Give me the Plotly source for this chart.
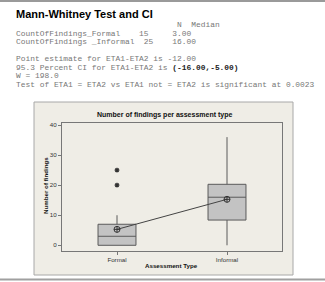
import plotly.graph_objects as go

# ---------------- data ----------------
categories = ["Formal", "Informal"]
series_names = ["CountOfFindings_Formal", "CountOfFindings _Informal"]
n_obs = [15, 25]
medians = [3.0, 16.0]
q1_vals = [0.0, 8.4]
q3_vals = [7.0, 20.3]
lower_whisker = [0.0, 0.0]
upper_whisker = [10.0, 36.0]
means = [5.3, 15.3]
outlier_cat = ["Formal", "Formal"]
outlier_vals = [20, 25]
point_estimate = -12.00
ci_level = 95.3
ci_bounds = [-16.00, -5.00]
w_stat = 198.0
p_value = 0.0023
y_ticks = [0, 10, 20, 30, 40]

# ---------------- geometry helpers ----------------
W, H = 325, 282
L, R, T, B = 62, 282, 123, 251  # plot area in pixels


def px(x):
    return (x - L) / (R - L)


def py(y):
    return (B - y) / (B - T)


NB = "\u00a0"


def mono(s):
    return s.replace(" ", NB)


fig = go.Figure()

fig.add_trace(go.Box(
    x=categories, q1=q1_vals, median=medians, q3=q3_vals,
    lowerfence=lower_whisker, upperfence=upper_whisker,
    boxpoints=False, width=0.345, whiskerwidth=0,
    fillcolor="#c3c3c3", line=dict(color="#5a5a5a", width=1),
    showlegend=False, hoverinfo="skip",
))

fig.add_trace(go.Scatter(
    x=outlier_cat, y=outlier_vals, mode="markers",
    marker=dict(symbol="asterisk-open", size=4, color="#333",
                line=dict(color="#333", width=1.2)),
    showlegend=False, hoverinfo="skip",
))

fig.add_trace(go.Scatter(
    x=categories, y=means, mode="lines+markers",
    line=dict(color="#444", width=1),
    marker=dict(symbol="circle-cross-open", size=6, color="#333",
                line=dict(color="#333", width=1)),
    showlegend=False, hoverinfo="skip",
))

shapes = [
    # top separator line
    dict(type="rect", xref="paper", yref="paper", x0=px(0), x1=px(W),
         y0=py(0), y1=py(2), fillcolor="#9a9a9a", line=dict(width=0), layer="below"),
    # chart panel
    dict(type="rect", xref="paper", yref="paper", x0=px(34), x1=px(293),
         y0=py(102), y1=py(275), fillcolor="#efede6",
         line=dict(color="#a8a8a8", width=1), layer="below"),
    # bottom separator line
    dict(type="rect", xref="paper", yref="paper", x0=px(0), x1=px(W),
         y0=py(278.5), y1=py(280.5), fillcolor="#a0a0a0", line=dict(width=0), layer="below"),
]

mono_font = dict(family="Liberation Mono", size=7.9, color="#777")

header = mono(" " * 34 + "N" + " " * 2 + "Median")
row1 = mono(f"{series_names[0]}    {n_obs[0]}     {medians[0]:.2f}")
row2 = mono(f"{series_names[1]}  {n_obs[1]}    {medians[1]:.2f}")
line_pe = mono(f"Point estimate for ETA1-ETA2 is {point_estimate:.2f}")
line_ci = (mono(f"{ci_level} Percent CI for ETA1-ETA2 is ")
           + f'<b><span style="color:#222">({ci_bounds[0]:.2f},{ci_bounds[1]:.2f})</span></b>')
line_w = mono(f"W = {w_stat:.1f}")
line_t = mono(f"Test of ETA1 = ETA2 vs ETA1 not = ETA2 is significant at {p_value:.4f}")

text_lines = [header, row1, row2, line_pe, line_ci, line_w, line_t]
text_y = [24.5, 33, 41.5, 58.5, 67, 75.5, 84]

annotations = [
    dict(text="<b>Mann-Whitney Test and CI</b>", xref="paper", yref="paper",
         x=px(14), y=py(14), xanchor="left", yanchor="middle", showarrow=False,
         font=dict(family="Liberation Sans", size=11, color="#000")),
]
for t, yy in zip(text_lines, text_y):
    annotations.append(dict(text=t, xref="paper", yref="paper",
                            x=px(14), y=py(yy), xanchor="left", yanchor="middle",
                            showarrow=False, font=mono_font))

annotations += [
    dict(text="<b>Number of findings per assessment type</b>", xref="paper", yref="paper",
         x=px(164), y=py(114.5), xanchor="center", yanchor="middle", showarrow=False,
         font=dict(family="Liberation Sans", size=7, color="#111")),
    dict(text="<b>Number of findings</b>", xref="paper", yref="paper",
         x=px(45), y=py(186), xanchor="center", yanchor="middle", showarrow=False,
         textangle=-90, font=dict(family="Liberation Sans", size=6.2, color="#111")),
    dict(text="<b>Assessment Type</b>", xref="paper", yref="paper",
         x=px(171), y=py(265), xanchor="center", yanchor="middle", showarrow=False,
         font=dict(family="Liberation Sans", size=6.2, color="#111")),
]

fig.update_layout(
    width=W, height=H,
    margin=dict(l=L, r=W - R, t=T, b=H - B, pad=0),
    paper_bgcolor="white", plot_bgcolor="white",
    shapes=shapes, annotations=annotations,
    showlegend=False,
)

fig.update_xaxes(
    type="category", range=[-0.5, 1.5], showgrid=False, zeroline=False,
    showline=True, mirror=True, linecolor="#777", linewidth=1,
    ticks="outside", ticklen=3, tickcolor="#777",
    tickfont=dict(family="Liberation Sans", size=6.2, color="#333"),
)
fig.update_yaxes(
    range=[-1.9, 40.7], tickvals=y_ticks, showgrid=False, zeroline=False,
    showline=True, mirror=True, linecolor="#777", linewidth=1,
    ticks="outside", ticklen=3, tickcolor="#777",
    tickfont=dict(family="Liberation Sans", size=6.2, color="#333"),
)

fig.write_html("out.html")
